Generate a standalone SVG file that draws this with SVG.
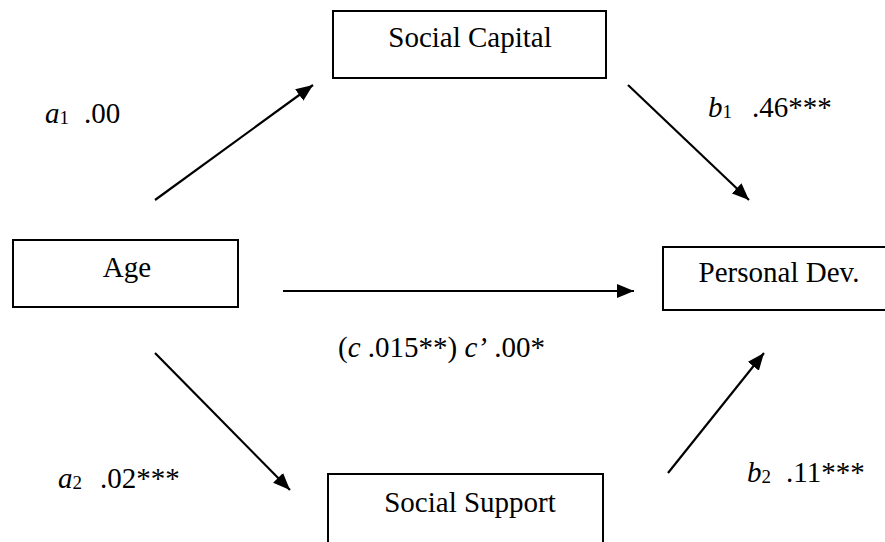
<svg xmlns="http://www.w3.org/2000/svg" width="885" height="542" viewBox="0 0 885 542">
<defs>
<style>
.box{fill:#fff;stroke:#000;stroke-width:2}
.lbl{font-size:29px;fill:#000}
.it{font-style:italic}
.sub{font-size:19px}
.edge{stroke:#000;stroke-width:2.2;fill:none;marker-end:url(#ah)}
</style>
<marker id="ah" markerUnits="userSpaceOnUse" markerWidth="18" markerHeight="14" refX="17" refY="7" orient="auto">
<path d="M0,0 L17,7 L0,14 z" fill="#000"/>
</marker>
</defs>
<rect width="885" height="542" fill="#fff"/>
<g id="connectors">
<line class="edge" x1="155" y1="200" x2="313" y2="85"/>
<line class="edge" x1="628" y1="85" x2="749" y2="200"/>
<line class="edge" x1="283" y1="291" x2="634" y2="291"/>
<line class="edge" x1="155" y1="353" x2="290" y2="490"/>
<line class="edge" x1="668" y1="473" x2="764" y2="353"/>
</g>
<g id="social-capital">
<rect class="box" x="333" y="11" width="273" height="67"/>
<text class="lbl" font-family="Times New Roman" x="470" y="47" text-anchor="middle">Social Capital</text>
</g>
<g id="age">
<rect class="box" x="13" y="240" width="225" height="67"/>
<text class="lbl" font-family="Times New Roman" x="127" y="277" text-anchor="middle">Age</text>
</g>
<g id="personal-dev">
<rect class="box" x="663" y="247" width="240" height="63"/>
<text class="lbl" font-family="Times New Roman" x="779" y="282" text-anchor="middle">Personal Dev.</text>
</g>
<g id="social-support">
<rect class="box" x="328" y="474" width="275" height="80"/>
<text class="lbl" font-family="Times New Roman" x="470" y="512" text-anchor="middle">Social Support</text>
</g>
<g id="labels">
<text class="lbl" font-family="Times New Roman" y="123"><tspan x="45" class="it">a</tspan><tspan class="sub" dy="1">1</tspan><tspan x="84" dy="-1">.00</tspan></text>
<text class="lbl" font-family="Times New Roman" y="117"><tspan x="708" class="it">b</tspan><tspan class="sub" dy="1">1</tspan><tspan x="752" dy="-1">.46***</tspan></text>
<text class="lbl" font-family="Times New Roman" x="338" y="357">(<tspan class="it">c</tspan> .015**) <tspan class="it">c’</tspan> .00*</text>
<text class="lbl" font-family="Times New Roman" y="488"><tspan x="58" class="it">a</tspan><tspan class="sub" dy="1">2</tspan><tspan x="100" dy="-1">.02***</tspan></text>
<text class="lbl" font-family="Times New Roman" y="482"><tspan x="747" class="it">b</tspan><tspan class="sub" dy="1">2</tspan><tspan x="786" dy="-1">.11***</tspan></text>
</g>
</svg>
